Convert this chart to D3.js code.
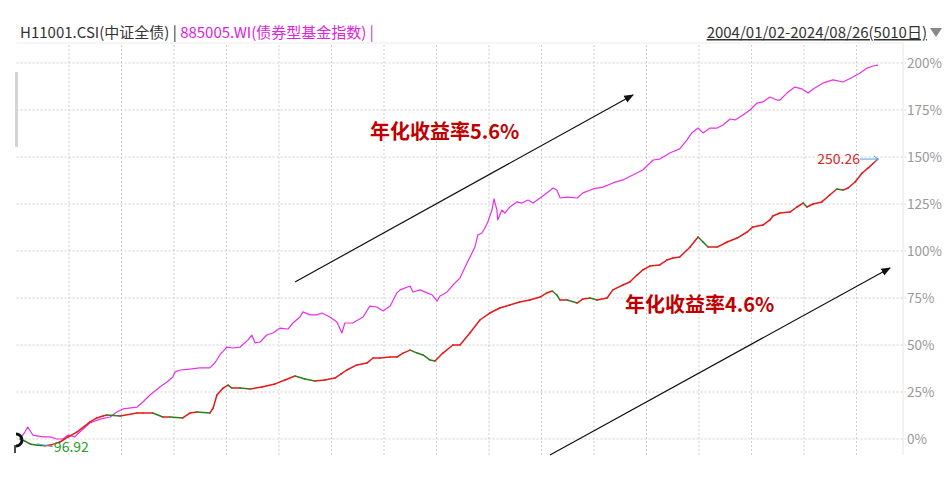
<!DOCTYPE html>
<html><head><meta charset="utf-8">
<script src="https://cdn.jsdelivr.net/npm/d3@7"></script>
<style>
html,body{margin:0;padding:0;background:#fff;}
svg{display:block;font-family:"Noto Sans CJK SC","Noto Sans",sans-serif;}
</style></head>
<body><svg id="chart" width="952" height="492"></svg>
<script>
// ---- data (decimal year, cumulative return %) ----
const bondName = "H11001.CSI(中证全债) | ";
const fundName = "885005.WI(债券型基金指数) |";
const dateRange = "2004/01/02-2024/08/26(5010日)";
const yTicks = [0, 25, 50, 75, 100, 125, 150, 175, 200];
const fundT = [2004.00,2004.12,2004.19,2004.31,2004.55,2004.72,2004.89,2005.03,2005.16,2005.32,2005.44,2005.68,2005.93,2006.17,2006.33,2006.48,2006.82,2006.96,2007.13,2007.37,2007.54,2007.68,2007.73,2007.85,2008.09,2008.33,2008.57,2008.69,2008.81,2008.98,2009.13,2009.30,2009.49,2009.58,2009.66,2009.78,2009.94,2010.09,2010.26,2010.45,2010.57,2010.74,2010.81,2010.98,2011.15,2011.27,2011.46,2011.63,2011.75,2011.82,2012.01,2012.26,2012.42,2012.59,2012.74,2012.91,2013.07,2013.15,2013.39,2013.46,2013.63,2013.80,2013.92,2014.04,2014.11,2014.28,2014.42,2014.59,2014.76,2014.88,2014.95,2015.02,2015.12,2015.19,2015.26,2015.36,2015.41,2015.48,2015.50,2015.60,2015.67,2015.79,2015.96,2016.08,2016.23,2016.35,2016.52,2016.68,2016.83,2016.92,2017.00,2017.17,2017.41,2017.55,2017.79,2018.03,2018.27,2018.51,2018.75,2018.99,2019.24,2019.40,2019.64,2019.88,2020.05,2020.17,2020.32,2020.44,2020.61,2020.78,2020.92,2021.09,2021.21,2021.40,2021.57,2021.74,2021.88,2022.05,2022.22,2022.29,2022.46,2022.65,2022.82,2022.97,2023.09,2023.33,2023.57,2023.81,2024.05,2024.22,2024.39,2024.53,2024.65];
const fundV = [0,3.7,6.4,2.1,1.1,1.1,0,0,2.1,1.1,3.7,8.5,10.6,11.7,14.4,16.0,17.0,19.7,23.4,27.7,30.3,33.0,35.6,36.7,37.2,37.8,37.8,40.4,44.7,48.9,48.4,48.9,52.7,55.3,51.1,51.6,55.3,56.4,59.0,58.5,61.7,64.9,67.6,66.0,66.0,67.0,64.9,62.2,56.4,61.7,61.7,64.9,70.7,70.2,68.1,70.7,77.7,79.3,81.4,78.2,79.3,77.7,76.6,73.4,76.1,78.2,81.9,85.6,93.6,98.9,102.1,108.5,109.6,112.2,115.4,121.8,127.7,121.8,116.5,121.8,120.2,123.4,126.1,125.5,127.1,125.5,128.2,130.9,133.5,132.4,128.2,128.7,128.2,130.9,133.0,134.0,136.2,137.8,140.4,143.1,148.4,148.9,152.1,154.3,159.0,162.8,165.4,162.8,165.4,165.4,167.0,170.2,169.7,172.3,175.0,178.7,179.3,181.9,180.3,180.3,184.0,187.2,186.2,184.0,186.2,189.4,191.0,189.9,192.6,194.7,197.3,198.4,198.9];
const bondT = [2004.00,2004.12,2004.26,2004.43,2004.60,2004.77,2004.96,2005.16,2005.37,2005.68,2005.85,2006.00,2006.09,2006.41,2006.82,2006.96,2007.20,2007.44,2007.61,2007.92,2008.09,2008.26,2008.57,2008.65,2008.74,2008.89,2009.01,2009.10,2009.30,2009.54,2009.82,2010.14,2010.38,2010.62,2010.86,2011.10,2011.34,2011.58,2011.73,2011.87,2012.11,2012.35,2012.50,2012.66,2012.91,2013.07,2013.22,2013.39,2013.56,2013.70,2013.87,2013.99,2014.18,2014.42,2014.59,2014.83,2015.07,2015.31,2015.55,2015.79,2016.03,2016.27,2016.52,2016.68,2016.81,2016.92,2017.00,2017.17,2017.41,2017.55,2017.72,2017.89,2018.13,2018.27,2018.51,2018.68,2018.85,2018.99,2019.16,2019.40,2019.57,2019.72,2019.88,2020.13,2020.32,2020.44,2020.56,2020.78,2021.02,2021.26,2021.50,2021.64,2021.88,2022.05,2022.12,2022.29,2022.53,2022.70,2022.85,2022.94,2023.09,2023.30,2023.49,2023.66,2023.81,2023.93,2024.10,2024.27,2024.41,2024.65];
const bondV = [0,-1.1,-2.8,-3.3,-3.6,-3.0,-1.6,1.1,3.7,9.0,11.2,12.2,12.8,12.2,13.8,13.8,13.8,11.7,11.7,11.2,13.8,14.4,13.8,16.5,23.4,27.1,28.7,27.1,27.1,26.6,27.7,29.3,31.4,33.5,31.9,30.9,31.4,32.4,34.6,36.7,39.4,40.4,43.1,43.1,43.6,43.6,45.7,47.3,45.7,44.7,42.0,41.5,45.7,50.0,50.0,56.4,63.3,67.0,69.7,71.3,72.9,73.9,75.5,77.7,78.7,76.6,73.9,73.9,72.3,74.5,75.0,73.9,75.0,79.3,81.9,83.5,87.2,89.9,92.0,92.6,95.2,96.3,96.8,102.1,107.4,104.8,102.1,102.1,104.8,106.9,110.1,112.8,113.8,116.5,118.6,120.2,120.7,123.4,125.5,123.4,125.0,126.1,129.8,133.0,132.4,133.5,136.7,141.5,144.1,148.9];
const bondMaxLabel = "250.26";
const bondMinLabel = "96.92";
const notes = [{text:"年化收益率5.6%"},{text:"年化收益率4.6%"}];

// ---- helpers ----
const toDate = t => { const y = Math.floor(t); const s = new Date(y,0,1), e = new Date(y+1,0,1); return new Date(+s + (t-y)*(e-s)); };
const fund = fundT.map((t,i)=>({d:toDate(t), v:fundV[i]}));
const bond = bondT.map((t,i)=>({d:toDate(t), v:bondV[i]}));

const svg = d3.select("#chart");
const plotL = 16.5, plotR = 903, plotT = 43, plotB = 455;
const x = d3.scaleTime().domain([new Date(2004,0,2), new Date(2024,7,26)]).range([20, 878]);
const y = d3.scaleLinear().domain([0, 200]).range([439, 63]);

// frame
svg.append("line").attr("x1",plotL).attr("x2",plotR).attr("y1",plotT).attr("y2",plotT).attr("stroke","#ececec");
svg.append("line").attr("x1",plotR).attr("x2",plotR).attr("y1",plotT).attr("y2",plotB).attr("stroke","#e6e6e6");
svg.append("rect").attr("x",15).attr("y",72).attr("width",3).attr("height",75).attr("fill","#d4d4d4");

// vertical grid (17 equal divisions)
const gx = d3.scaleLinear().domain([0,17]).range([plotL, plotL + 17*52.5]);
d3.range(1,17).forEach(i=>{
  svg.append("line").attr("x1",gx(i)).attr("x2",gx(i)).attr("y1",plotT+2).attr("y2",plotB)
    .attr("stroke","#cfcfcf").attr("stroke-dasharray","2,2");
});
// horizontal grid + right axis labels
yTicks.forEach(t=>{
  svg.append("line").attr("x1",plotL).attr("x2",plotR+3).attr("y1",y(t)).attr("y2",y(t))
    .attr("stroke","#cfcfcf").attr("stroke-dasharray","2,2");
  svg.append("text").attr("x",907).attr("y",y(t)).attr("dy","0.35em")
    .attr("font-size",13.5).attr("fill","#999").text(t+"%");
});

// fund line
const line = d3.line().x(d=>x(d.d)).y(d=>y(d.v));
svg.append("path").datum(fund).attr("d",line).attr("fill","none")
  .attr("stroke","#e830e8").attr("stroke-width",1.2).attr("stroke-linejoin","round");

// bond line coloured by direction
for (let i=1;i<bond.length;i++){
  const a=bond[i-1], b=bond[i];
  svg.append("path").datum([a,b]).attr("d",line).attr("fill","none")
    .attr("stroke", b.v>=a.v ? "#e31a1a" : "#2e7d1e").attr("stroke-width",1.5).attr("stroke-linecap","round");
}

// max / min labels
const last = bond[bond.length-1];
const minP = bond.reduce((m,d)=>d.v<m.v?d:m, bond[0]);
svg.append("text").attr("x",x(last.d)-18).attr("y",y(last.v)).attr("dy","0.35em").attr("text-anchor","end")
  .attr("font-size",14).attr("fill","#d42828").text(bondMaxLabel);
svg.append("line").attr("x1",x(last.d)-18).attr("x2",x(last.d)).attr("y1",y(last.v)).attr("y2",y(last.v)).attr("stroke","#4aa3df");
svg.append("path").attr("d",`M${x(last.d)-4},${y(last.v)-3}L${x(last.d)},${y(last.v)}L${x(last.d)-4},${y(last.v)+3}`).attr("fill","none").attr("stroke","#4aa3df");
svg.append("line").attr("x1",x(minP.d)-8).attr("x2",x(minP.d)+8).attr("y1",y(minP.v)-2).attr("y2",y(minP.v)+1).attr("stroke","#4aa3df");
svg.append("text").attr("x",x(minP.d)+9).attr("y",y(minP.v)+1).attr("dy","0.35em")
  .attr("font-size",14).attr("fill","#2a9a2a").text(bondMinLabel);

// start marker
svg.append("path").attr("d","M16,434 A6,6 0 1 1 16,446").attr("fill","none").attr("stroke","#111").attr("stroke-width",3);
svg.append("line").attr("x1",15).attr("x2",15).attr("y1",445).attr("y2",453).attr("stroke","#111").attr("stroke-width",1.5);

// annotation arrows
const defs = svg.append("defs");
defs.append("marker").attr("id","ah").attr("viewBox","0 0 10 10").attr("refX",9).attr("refY",5)
  .attr("markerWidth",8).attr("markerHeight",8).attr("orient","auto")
  .append("path").attr("d","M0,1L10,5L0,9Z").attr("fill","#111");
svg.append("line").attr("x1",295).attr("y1",282).attr("x2",633).attr("y2",95).attr("stroke","#111").attr("stroke-width",1.2).attr("marker-end","url(#ah)");
svg.append("line").attr("x1",550).attr("y1",455).attr("x2",890).attr("y2",268).attr("stroke","#111").attr("stroke-width",1.2).attr("marker-end","url(#ah)");
svg.append("text").attr("x",370).attr("y",132).attr("dy","0.35em").attr("font-size",20).attr("font-weight","bold").attr("fill","#c00000").text(notes[0].text);
svg.append("text").attr("x",625).attr("y",305).attr("dy","0.35em").attr("font-size",20).attr("font-weight","bold").attr("fill","#c00000").text(notes[1].text);

// title
const title = svg.append("text").attr("x",20).attr("y",38).attr("font-size",15);
title.append("tspan").attr("fill","#333").text(bondName);
title.append("tspan").attr("fill","#e020e0").text(fundName);
svg.append("text").attr("x",927).attr("y",38).attr("text-anchor","end").attr("font-size",15).attr("fill","#333")
  .attr("text-decoration","underline").text(dateRange);
svg.append("path").attr("d","M930,28L942,28L936,37Z").attr("fill","#888");
</script></body></html>
